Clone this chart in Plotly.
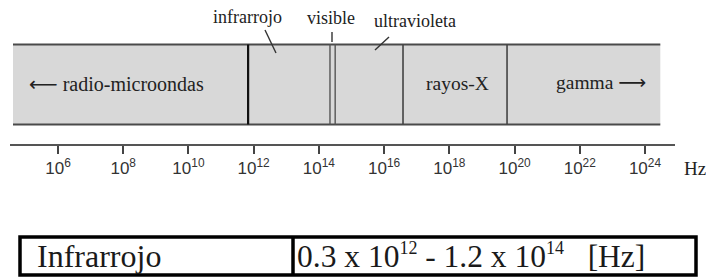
import plotly.graph_objects as go

# ---------------- data ----------------
band_names = ["radio-microondas", "infrarrojo", "visible", "ultravioleta", "rayos-X", "gamma"]
# band boundaries as log10(frequency / Hz)
band_edges = [4.62, 11.83, 14.34, 14.50, 16.58, 19.77, 24.47]
tick_exponents = [6, 8, 10, 12, 14, 16, 18, 20, 22, 24]
tick_labels = ["10<sup>%d</sup>" % e for e in tick_exponents]
unit_label = "Hz"
table_band = "Infrarrojo"
table_low = (0.3, 12)   # 0.3 x 10^12 Hz
table_high = (1.2, 14)  # 1.2 x 10^14 Hz

# ---------------- layout helpers ----------------
W, H = 706, 277
PX_PER_DEC = 32.61
PX_AT_6 = 58.0


def px2e(px):
    return 6 + (px - PX_AT_6) / PX_PER_DEC


AX_L, AX_R = 10, 675
SERIF = "Liberation Serif"
LINE = "#4a4a4a"
ARROW_L = "<span style='font-family:DejaVu Sans'>\u27f5</span>"
ARROW_R = "<span style='font-family:DejaVu Sans'>\u27f6</span>"

fig = go.Figure()
fig.add_trace(go.Scatter(x=[band_edges[0], band_edges[-1]], y=[-10, -10], mode="markers",
                         marker=dict(opacity=0), hoverinfo="skip", showlegend=False))

shapes = []
bar_top, bar_bot = 44.5, 124.5
# gray bar
shapes.append(dict(type="rect", xref="x", yref="y", x0=band_edges[0], x1=band_edges[-1],
                   y0=bar_top, y1=bar_bot, fillcolor="#d8d8d8", line=dict(width=0), layer="below"))
for yv in (bar_top, bar_bot):
    shapes.append(dict(type="line", xref="x", yref="y", x0=band_edges[0], x1=band_edges[-1],
                       y0=yv, y1=yv, line=dict(color=LINE, width=2.2)))
# dividers between bands
div_styles = {1: ("#111111", 2.2), 2: ("#555555", 1.4), 3: ("#555555", 1.4),
              4: ("#444444", 1.6), 5: ("#444444", 1.6)}
for i in range(1, len(band_edges) - 1):
    c, w = div_styles[i]
    shapes.append(dict(type="line", xref="x", yref="y", x0=band_edges[i], x1=band_edges[i],
                       y0=bar_top, y1=bar_bot, line=dict(color=c, width=w)))

# leader lines for the narrow bands
leaders = [((265, 30), (276, 53)), ((332, 32), (332, 42)), ((389, 37), (375, 50))]
for (xa, ya), (xb, yb) in leaders:
    shapes.append(dict(type="line", xref="x", yref="y", x0=px2e(xa), x1=px2e(xb),
                       y0=ya, y1=yb, line=dict(color="#333333", width=1.4)))

# table
tl, tr, tt, tb, tdiv = 20, 696, 237, 275, 293
shapes.append(dict(type="rect", xref="paper", yref="y", x0=tl / W, x1=tr / W, y0=tt, y1=tb,
                   line=dict(color="#000000", width=3.5), fillcolor="rgba(0,0,0,0)"))
shapes.append(dict(type="line", xref="paper", yref="y", x0=tdiv / W, x1=tdiv / W, y0=tt, y1=tb,
                   line=dict(color="#000000", width=3.5)))

annotations = []


def ann(text, px, py, size, xanchor="center", color="#222222", font=SERIF):
    annotations.append(dict(text=text, x=px / W, y=py, xref="paper", yref="y",
                            xanchor=xanchor, yanchor="middle", showarrow=False,
                            font=dict(family=font, size=size, color=color)))


# band labels inside the bar
ann(ARROW_L + " " + band_names[0], 27, 84, 20, "left")
ann(band_names[4], 457, 83, 19.5)
ann(band_names[5] + " " + ARROW_R, 648, 82, 19.5, "right")
# labels above the bar
ann(band_names[1], 247, 17, 18)
ann(band_names[2], 331, 18, 18)
ann(band_names[3], 415, 21, 18)
# unit
ann(unit_label, 682, 168, 19, "left")
# table text
ann(table_band, 35, 256, 32, "left", color="#1a1a1a")


def sup(v):
    return "<sup><span style='font-size:18px'>%d</span></sup>" % v


range_txt = "%.1f x 10%s - %.1f x 10%s&nbsp;&nbsp;&nbsp;[Hz]" % (
    table_low[0], sup(table_low[1]), table_high[0], sup(table_high[1]))
ann(range_txt, 295, 256, 31.5, "left", color="#1a1a1a")

axis_y = 145
fig.update_layout(
    width=W, height=H, margin=dict(l=0, r=0, t=0, b=0),
    paper_bgcolor="white", plot_bgcolor="white",
    shapes=shapes, annotations=annotations, showlegend=False,
    xaxis=dict(domain=[AX_L / W, AX_R / W], range=[px2e(AX_L), px2e(AX_R)],
               anchor="free", position=(H - axis_y) / H,
               showline=True, linecolor="#555555", linewidth=2,
               ticks="outside", ticklen=8, tickwidth=1.5, tickcolor="#444444",
               tickvals=tick_exponents, ticktext=tick_labels,
               tickfont=dict(family="Liberation Sans", size=17, color="#333333"),
               showgrid=False, zeroline=False, fixedrange=True),
    yaxis=dict(range=[H, 0], visible=False, showgrid=False, zeroline=False, fixedrange=True),
)

fig.write_html("out.html", config={"displayModeBar": False},
               post_script="document.body.style.margin='0';document.body.style.overflow='hidden';")
